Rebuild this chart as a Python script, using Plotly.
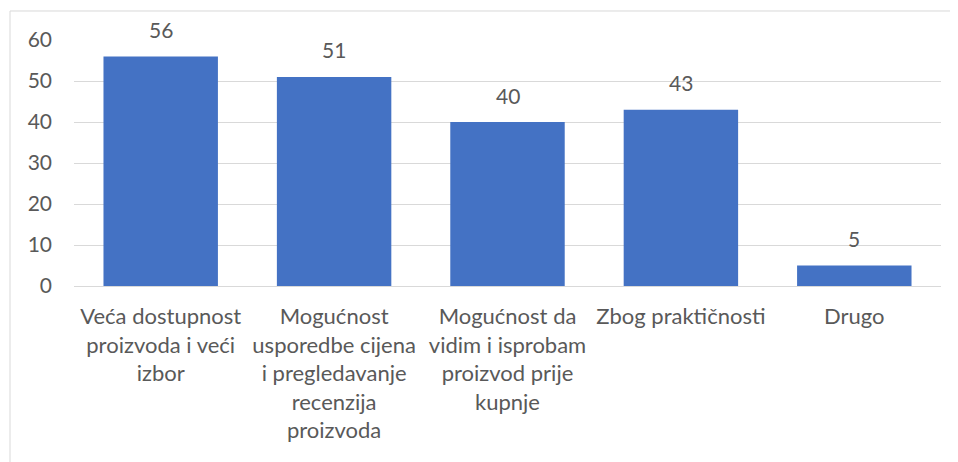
import plotly.graph_objects as go

categories = [
    "Veća dostupnost<br>proizvoda i veći<br>izbor",
    "Mogućnost<br>usporedbe cijena<br>i pregledavanje<br>recenzija<br>proizvoda",
    "Mogućnost da<br>vidim i isprobam<br>proizvod prije<br>kupnje",
    "Zbog praktičnosti",
    "Drugo",
]
values = [56, 51, 40, 43, 5]
y_ticks = [0, 10, 20, 30, 40, 50, 60]

FONT = "Lato"
TXT = "#595959"

fig = go.Figure()
fig.add_trace(go.Bar(
    x=categories, y=values,
    marker=dict(color="#4472C4", line=dict(width=0)),
    width=0.66,
    hoverinfo="skip",
))

for c, v in zip(categories, values):
    fig.add_annotation(x=c, y=v, text=str(v), showarrow=False,
                       yanchor="middle", yshift=27,
                       font=dict(family=FONT, size=21, color=TXT))

fig.add_shape(type="rect", xref="paper", yref="paper",
              x0=-0.0738, x1=1.05, y0=-0.9, y1=1.1179,
              line=dict(color="#d9d9d9", width=1), layer="below")

fig.update_layout(
    width=950, height=454,
    margin=dict(l=66, r=17, t=32, b=176),
    paper_bgcolor="white", plot_bgcolor="white",
    showlegend=False,
    font=dict(family=FONT, size=21, color=TXT),
    xaxis=dict(showgrid=False, showline=False, ticks="",
               tickfont=dict(family=FONT, size=22, color=TXT),
               ticklabelstandoff=15, tickangle=0),
    yaxis=dict(range=[0, 60], tickvals=y_ticks, showgrid=True,
               gridcolor="#d9d9d9", gridwidth=1, zeroline=True,
               zerolinecolor="#d9d9d9", zerolinewidth=1, showline=False,
               ticks="", tickfont=dict(family=FONT, size=21, color=TXT),
               ticklabelstandoff=21, fixedrange=True),
    bargap=0.34,
)

fig.write_html("out.html")
